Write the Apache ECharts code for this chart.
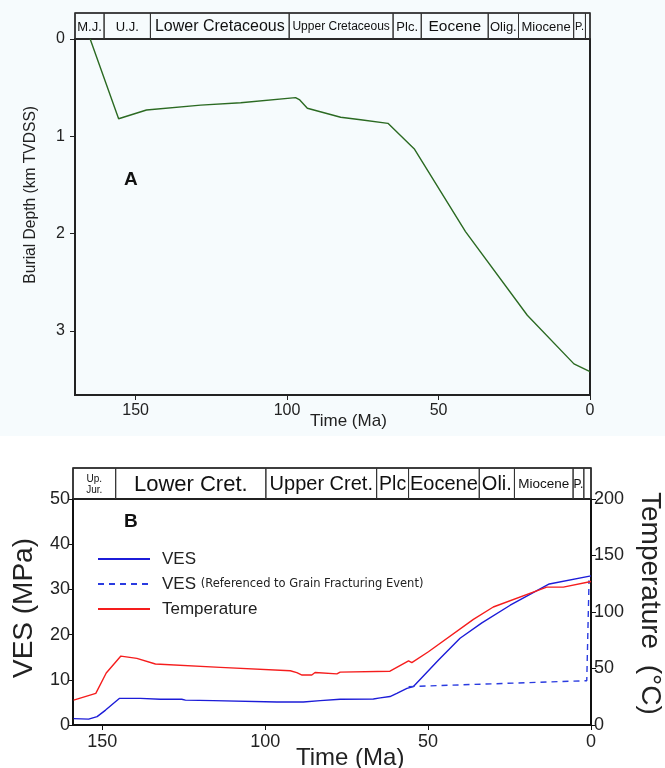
<!DOCTYPE html>
<html>
<head>
<meta charset="utf-8">
<script src="https://cdn.jsdelivr.net/npm/echarts@6.0.0/dist/echarts.min.js"></script>
<style>
  html, body { margin: 0; padding: 0; background: #fff; }
  #chart { width: 665px; height: 768px; }
</style>
</head>
<body>
<div id="chart"></div>
<script>
'use strict';
// panel A : burial history
var timeA  = [165, 155.6, 146.4, 128.5, 115.3, 97.2, 95.8, 93.3, 82.3, 75.7, 66.7, 57.9, 41.1, 20.7, 5.3, 0];
var depthA = [0, 0.82, 0.73, 0.68, 0.655, 0.603, 0.627, 0.712, 0.805, 0.83, 0.867, 1.134, 1.98, 2.84, 3.34, 3.42];

// panel B : VES and temperature
var timeVes = [158.8, 154.2, 151.6, 149, 144.7, 138.3, 132.2, 125.6, 124.5, 115.9, 96.4, 88.3, 83.1, 77, 66.8, 64.7, 61.7, 59.6, 56.5, 54.5, 46.8, 40.2, 33.5, 24.8, 12.8, 0];
var ves     = [1.4, 1.3, 1.85, 3.3, 5.9, 5.9, 5.7, 5.7, 5.5, 5.4, 5.1, 5.1, 5.4, 5.7, 5.75, 6.0, 6.3, 7.0, 8.1, 8.5, 14.4, 19.2, 22.6, 26.5, 31.2, 33];
var timeVesRef = [56, 1.3, 0.6];
var vesRef     = [8.5, 9.8, 32];
var timeTemp = [158.8, 152, 148.8, 144.3, 139.4, 133.7, 113.8, 92.3, 90.3, 88.7, 85.7, 84.7, 78, 77, 61.7, 56, 55, 49.9, 36.1, 30, 13.6, 8.5, 0];
var temp     = [22, 28, 46, 61, 59, 54, 51, 48, 46.4, 44.2, 44.2, 46.4, 45.2, 46.8, 47.6, 56.8, 55.2, 64.8, 93.5, 104.4, 122, 122, 127];

// stratigraphic header bars (age of the cell edges, Ma)
var stageNamesA = ['M.J.', 'U.J.', 'Lower Cretaceous', 'Upper Cretaceous', 'Plc.', 'Eocene', 'Olig.', 'Miocene', 'P.', ''];
var stageEdgesA = [170, 160.4, 145.1, 99.3, 65, 55.7, 33.6, 23.6, 5.4, 1.5, 0];
var stageNamesB = ['Up.\nJur.', 'Lower Cret.', 'Upper Cret.', 'Plc', 'Eocene', 'Oli.', 'Miocene', 'P.', ''];
var stageEdgesB = [159, 145.9, 99.8, 65.8, 56, 34.3, 23.5, 5.5, 2.2, 0];

var stageFontA = [13, 13, 16, 12, 13, 15.5, 13, 13, 11, 11];
var stageFontB = [10, 22, 20, 19.5, 20, 20, 13.5, 12, 11];

var FONT = '"Liberation Sans", Arial, sans-serif';

function pairs(xs, ys) {
    var out = [];
    for (var i = 0; i < xs.length; i++) out.push([xs[i], ys[i]]);
    return out;
}
function cells(edges) {
    var out = [];
    for (var i = 0; i < edges.length - 1; i++) out.push([edges[i], edges[i + 1], i]);
    return out;
}
function headerRenderer(names, fonts) {
    return function (params, api) {
        var p0 = api.coord([api.value(0), 1]);
        var p1 = api.coord([api.value(1), 0]);
        var x = Math.min(p0[0], p1[0]);
        var w = Math.abs(p1[0] - p0[0]);
        var y = p0[1];
        var h = p1[1] - p0[1];
        var idx = api.value(2);
        var fs = fonts[idx];
        return {
            type: 'group',
            children: [
                { type: 'rect', shape: { x: x, y: y, width: w, height: h },
                  style: { fill: 'none', stroke: '#333', lineWidth: 1 } },
                { type: 'text',
                  style: { text: names[idx], x: x + w / 2, y: y + h / 2 + 1,
                           align: 'center', verticalAlign: 'middle',
                           font: fs + 'px ' + FONT, fill: '#111',
                           lineHeight: fs + 1 } }
            ]
        };
    };
}

var chart = echarts.init(document.getElementById('chart'), null, { renderer: 'canvas' });

var option = {
    backgroundColor: '#ffffff',
    animation: false,
    graphic: [
        { type: 'rect', z: -10, silent: true, shape: { x: 0, y: 0, width: 665, height: 436 }, style: { fill: '#f6fbfd' } },
        { type: 'text', left: 23, top: 106, rotation: Math.PI / 2, silent: true,
          style: { text: 'Burial Depth (km TVDSS)', font: '15.6px ' + FONT, fill: '#222' } },
        { type: 'text', left: 310, top: 413, style: { text: 'Time (Ma)', font: '17px ' + FONT, fill: '#222' } },
        { type: 'text', left: 124, top: 170, style: { text: 'A', font: 'bold 19px ' + FONT, fill: '#111' } },
        { type: 'text', left: 124, top: 512, style: { text: 'B', font: 'bold 19px ' + FONT, fill: '#111' } },
        { type: 'text', left: 10, top: 538, rotation: Math.PI / 2,
          style: { text: 'VES (MPa)', font: '28px ' + FONT, fill: '#222' } },
        { type: 'text', left: 636, top: 492, rotation: -Math.PI / 2,
          style: { text: 'Temperature  (°C)', font: '28px ' + FONT, fill: '#222' } },
        { type: 'text', left: 296, top: 746, style: { text: 'Time (Ma)', font: '24px ' + FONT, fill: '#222' } }
    ],
    legend: {
        left: 92, top: 543, orient: 'vertical', itemWidth: 52, itemHeight: 14, itemGap: 3,
        itemStyle: { opacity: 0 },
        data: ['VES', 'VES (Referenced to Grain Fracturing Event)', 'Temperature'],
        formatter: function (name) {
            if (name.indexOf('(') > 0) return 'VES {s|(Referenced to Grain Fracturing Event)}';
            return name;
        },
        textStyle: {
            fontFamily: FONT, fontSize: 17, color: '#222', lineHeight: 22, padding: [0, 0, 0, 7],
            rich: { s: { fontFamily: '"DejaVu Sans", sans-serif', fontSize: 11.5, color: '#222' } }
        }
    },
    grid: [
        { left: 75, right: 75, top: 39, height: 356, show: true, borderColor: '#222', borderWidth: 2, backgroundColor: 'transparent' },
        { left: 75, right: 75, top: 13, height: 26, show: true, borderColor: '#222', borderWidth: 1.5 },
        { left: 73, right: 74, top: 499, height: 226, show: true, borderColor: '#111', borderWidth: 2 },
        { left: 73, right: 74, top: 468, height: 31, show: true, borderColor: '#111', borderWidth: 1.5 }
    ],
    xAxis: [
        { gridIndex: 0, type: 'value', inverse: true, min: 0, max: 170, interval: 50,
          axisLine: { onZero: false, lineStyle: { color: '#222', width: 2 } },
          axisTick: { length: 5, lineStyle: { color: '#222' }, customValues: [0, 50, 100, 150] },
          axisLabel: { fontFamily: FONT, fontSize: 16, color: '#222', margin: 8, customValues: [0, 50, 100, 150] },
          splitLine: { show: false } },
        { gridIndex: 1, type: 'value', inverse: true, min: 0, max: 170, show: false },
        { gridIndex: 2, type: 'value', inverse: true, min: 0, max: 159, interval: 50,
          axisLine: { onZero: false, lineStyle: { color: '#111', width: 2 } },
          axisTick: { length: 5, lineStyle: { color: '#111' }, customValues: [0, 50, 100, 150] },
          axisLabel: { fontFamily: FONT, fontSize: 18, color: '#222', margin: 8, customValues: [0, 50, 100, 150] },
          splitLine: { show: false } },
        { gridIndex: 3, type: 'value', inverse: true, min: 0, max: 159, show: false }
    ],
    yAxis: [
        { gridIndex: 0, type: 'value', inverse: true, min: 0, max: 3.66, interval: 1,
          axisLine: { show: true, onZero: false, lineStyle: { color: '#222', width: 2 } },
          axisTick: { show: true, length: 5, lineStyle: { color: '#222' }, customValues: [0, 1, 2, 3] },
          axisLabel: { fontFamily: FONT, fontSize: 16, color: '#222', margin: 10, customValues: [0, 1, 2, 3] },
          splitLine: { show: false } },
        { gridIndex: 1, type: 'value', min: 0, max: 1, show: false },
        { gridIndex: 2, type: 'value', min: 0, max: 50, interval: 10, position: 'left',
          axisLine: { show: true, onZero: false, lineStyle: { color: '#111', width: 2 } },
          axisTick: { show: true, length: 5, lineStyle: { color: '#111' } },
          axisLabel: { fontFamily: FONT, fontSize: 18, color: '#222', margin: 3 },
          splitLine: { show: false } },
        { gridIndex: 2, type: 'value', min: 0, max: 200, interval: 50, position: 'right',
          axisLine: { show: true, onZero: false, lineStyle: { color: '#111', width: 2 } },
          axisTick: { show: true, length: 5, lineStyle: { color: '#111' } },
          axisLabel: { fontFamily: FONT, fontSize: 18, color: '#222', margin: 3 },
          splitLine: { show: false } },
        { gridIndex: 3, type: 'value', min: 0, max: 1, show: false }
    ],
    series: [
        { name: 'Burial', type: 'line', xAxisIndex: 0, yAxisIndex: 0, data: pairs(timeA, depthA),
          symbol: 'none', lineStyle: { color: '#2b6a22', width: 1.4 } },
        { name: 'headerA', type: 'custom', xAxisIndex: 1, yAxisIndex: 1, data: cells(stageEdgesA),
          renderItem: headerRenderer(stageNamesA, stageFontA), silent: true },
        { name: 'headerB', type: 'custom', xAxisIndex: 3, yAxisIndex: 4, data: cells(stageEdgesB),
          renderItem: headerRenderer(stageNamesB, stageFontB), silent: true },
        { name: 'VES', type: 'line', xAxisIndex: 2, yAxisIndex: 2, data: pairs(timeVes, ves),
          symbol: 'none', itemStyle: { color: '#1c1cd8' }, lineStyle: { color: '#1c1cd8', width: 1.4 } },
        { name: 'VES (Referenced to Grain Fracturing Event)', type: 'line', xAxisIndex: 2, yAxisIndex: 2,
          data: pairs(timeVesRef, vesRef), symbol: 'none', itemStyle: { color: '#2a3be0' },
          lineStyle: { color: '#2a3be0', width: 1.4, type: [6, 5] } },
        { name: 'Temperature', type: 'line', xAxisIndex: 2, yAxisIndex: 3, data: pairs(timeTemp, temp),
          symbol: 'none', itemStyle: { color: '#f51d1d' }, lineStyle: { color: '#f51d1d', width: 1.4 } }
    ]
};
chart.setOption(option);
</script>
</body>
</html>
